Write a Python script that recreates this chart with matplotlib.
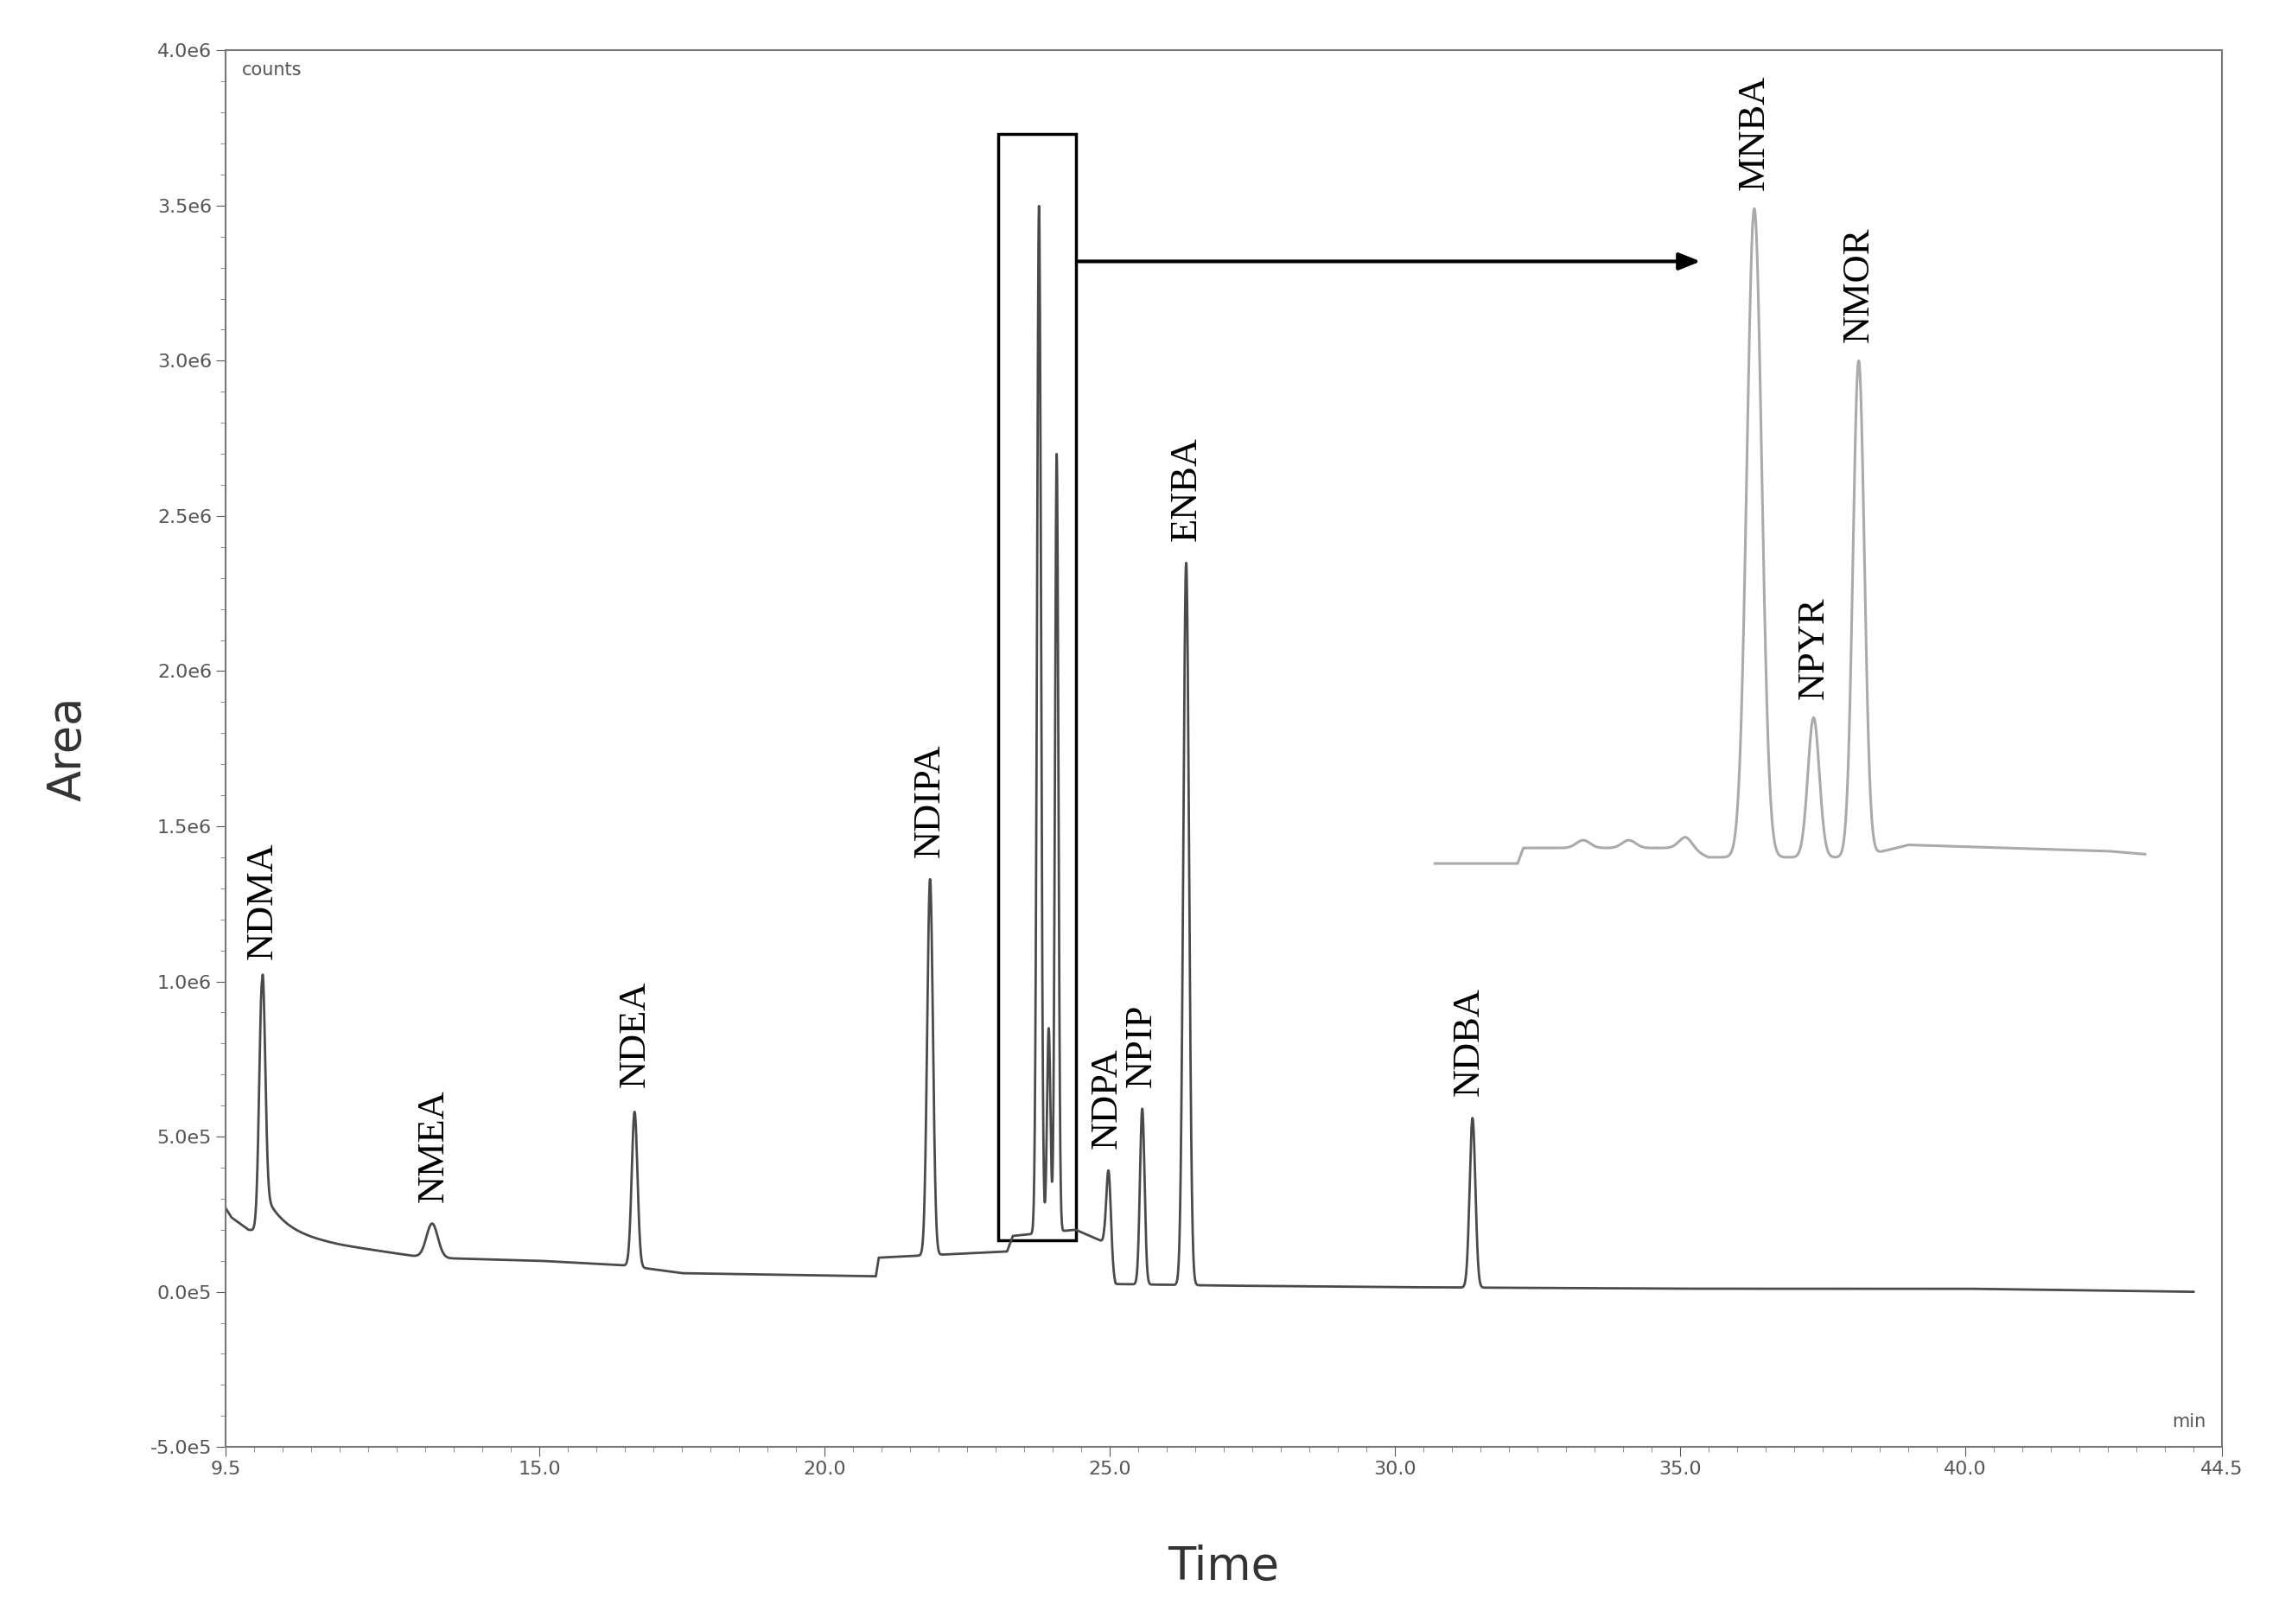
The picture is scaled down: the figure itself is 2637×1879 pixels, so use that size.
import matplotlib.pyplot as plt
import numpy as np

# baseline points (time, counts)
base_t = [9.5, 9.6, 9.9, 10.1, 11.5, 13.0, 15.0, 16.5, 17.5, 20.9, 20.95, 23.2, 23.3, 24.4, 24.9, 25.1, 27.0, 30.0, 35.0, 40.0, 44.0]
base_y = [2.7e5, 2.4e5, 2.0e5, 1.95e5, 1.5e5, 1.1e5, 1.0e5, 8.5e4, 6.0e4, 5.0e4, 1.1e5, 1.3e5, 1.8e5, 2.0e5, 1.6e5, 2.5e4, 2.0e4, 1.5e4, 1.0e4, 1.0e4, 0.0]

# peaks: name, time, apex height, width
peak_names = ["NDMA", "NMEA", "NDEA", "NDIPA", "MNBA", "NPYR", "NMOR", "NDPA", "NPIP", "ENBA", "NDBA"]
peak_t = [10.14, 13.12, 16.67, 21.85, 23.76, 23.93, 24.07, 24.98, 25.57, 26.34, 31.36]
peak_h = [1.0e6, 2.2e5, 5.8e5, 1.33e6, 3.5e6, 8.5e5, 2.7e6, 3.9e5, 5.9e5, 2.35e6, 5.6e5]
peak_w = [0.05, 0.1, 0.05, 0.05, 0.035, 0.03, 0.03, 0.04, 0.04, 0.05, 0.05]
label_t = [10.14, 13.15, 16.67, 21.85, None, None, None, 24.95, 25.55, 26.34, 31.3]
label_y = [1.07e6, 2.9e5, 6.6e5, 1.4e6, None, None, None, 4.6e5, 6.6e5, 2.42e6, 6.3e5]

# inset (zoom of the boxed region), drawn in data coordinates
ins_t = [30.7, 32.15, 32.25, 33.0, 33.3, 33.6, 34.1, 34.6, 35.1, 35.5, 36.3, 37.34, 38.13, 39.0, 42.5, 43.15]
ins_base = [1.38e6, 1.38e6, 1.43e6, 1.43e6, 1.43e6, 1.43e6, 1.43e6, 1.43e6, 1.43e6, 1.40e6, 1.40e6, 1.40e6, 1.40e6, 1.44e6, 1.42e6, 1.41e6]
ins_names = ["MNBA", "NPYR", "NMOR"]
ins_pt = [36.3, 37.34, 38.13]
ins_ph = [3.49e6, 1.85e6, 3.0e6]
ins_pw = [0.13, 0.1, 0.1]
ins_bump_t = [33.3, 34.1, 35.1]
ins_bump_h = [2.5e4, 2.5e4, 3.5e4]

t = np.linspace(9.5, 44.0, 8000)
y = np.interp(t, base_t, base_y)
for tp, h, w in zip(peak_t, peak_h, peak_w):
    b = np.interp(tp, base_t, base_y)
    y += (h - b) * np.exp(-0.5 * ((t - tp) / w) ** 2)
# NDMA tail
tail = t > 10.14
y[tail] += 1.4e5 * (1 - np.exp(-(t[tail] - 10.14) / 0.03)) * np.exp(-(t[tail] - 10.14) / 0.35)

ti = np.linspace(ins_t[0], ins_t[-1], 3000)
yi = np.interp(ti, ins_t, ins_base)
for tp, h, w in zip(ins_pt, ins_ph, ins_pw):
    yi += (h - 1.40e6) * np.exp(-0.5 * ((ti - tp) / w) ** 2)
for tp, h in zip(ins_bump_t, ins_bump_h):
    yi += h * np.exp(-0.5 * ((ti - tp) / 0.12) ** 2)

fig = plt.figure(figsize=(26.37, 18.79), dpi=100)
ax = fig.add_axes([0.099, 0.109, 0.876, 0.86])
ax.plot(t, y, color="#4a4a4a", lw=2)
ax.plot(ti, yi, color="#aaaaaa", lw=2.2)

serif = "Liberation Serif"
for n, lt, ly in zip(peak_names, label_t, label_y):
    if lt is not None:
        ax.text(lt, ly, n, rotation=90, ha="center", va="bottom", fontsize=32, family=serif)
for n, tp, h in zip(ins_names, ins_pt, ins_ph):
    ax.text(tp, h + 6e4, n, rotation=90, ha="center", va="bottom", fontsize=32, family=serif)

ax.add_patch(plt.Rectangle((23.04, 1.67e5), 1.37, 3.73e6 - 1.67e5, fill=False, ec="black", lw=2.5))
ax.annotate("", xy=(35.4, 3.32e6), xytext=(24.41, 3.32e6),
            arrowprops=dict(arrowstyle="-|>,head_width=0.6,head_length=1.5", color="black", lw=3))

ax.set_xlim(9.5, 44.5)
ax.set_ylim(-5e5, 4e6)
ax.set_xticks([9.5, 15, 20, 25, 30, 35, 40, 44.5])
ax.set_xticklabels(["9.5", "15.0", "20.0", "25.0", "30.0", "35.0", "40.0", "44.5"])
yt = np.arange(-5e5, 4.01e6, 5e5)
ax.set_yticks(yt)
ax.set_yticklabels([f"{v/1e6:.1f}e6" if abs(v) >= 1e6 else f"{v/1e5:.1f}e5" for v in yt])
ax.set_xticks(np.arange(9.5, 44.6, 0.5), minor=True)
ax.set_yticks(np.arange(-5e5, 4.01e6, 1e5), minor=True)
ax.tick_params(labelsize=16, colors="#555555", length=8)
ax.tick_params(which="minor", length=4, colors="#777777")
for s in ax.spines.values():
    s.set_color("#777777")
    s.set_linewidth(1.5)
ax.text(0.008, 0.992, "counts", transform=ax.transAxes, ha="left", va="top", fontsize=15, color="#555555")
ax.text(0.992, 0.012, "min", transform=ax.transAxes, ha="right", va="bottom", fontsize=15, color="#555555")
ax.set_xlabel("Time", fontsize=38, color="#333333", labelpad=55)
ax.set_ylabel("Area", fontsize=38, color="#333333", labelpad=50)

fig.savefig("out.png")
